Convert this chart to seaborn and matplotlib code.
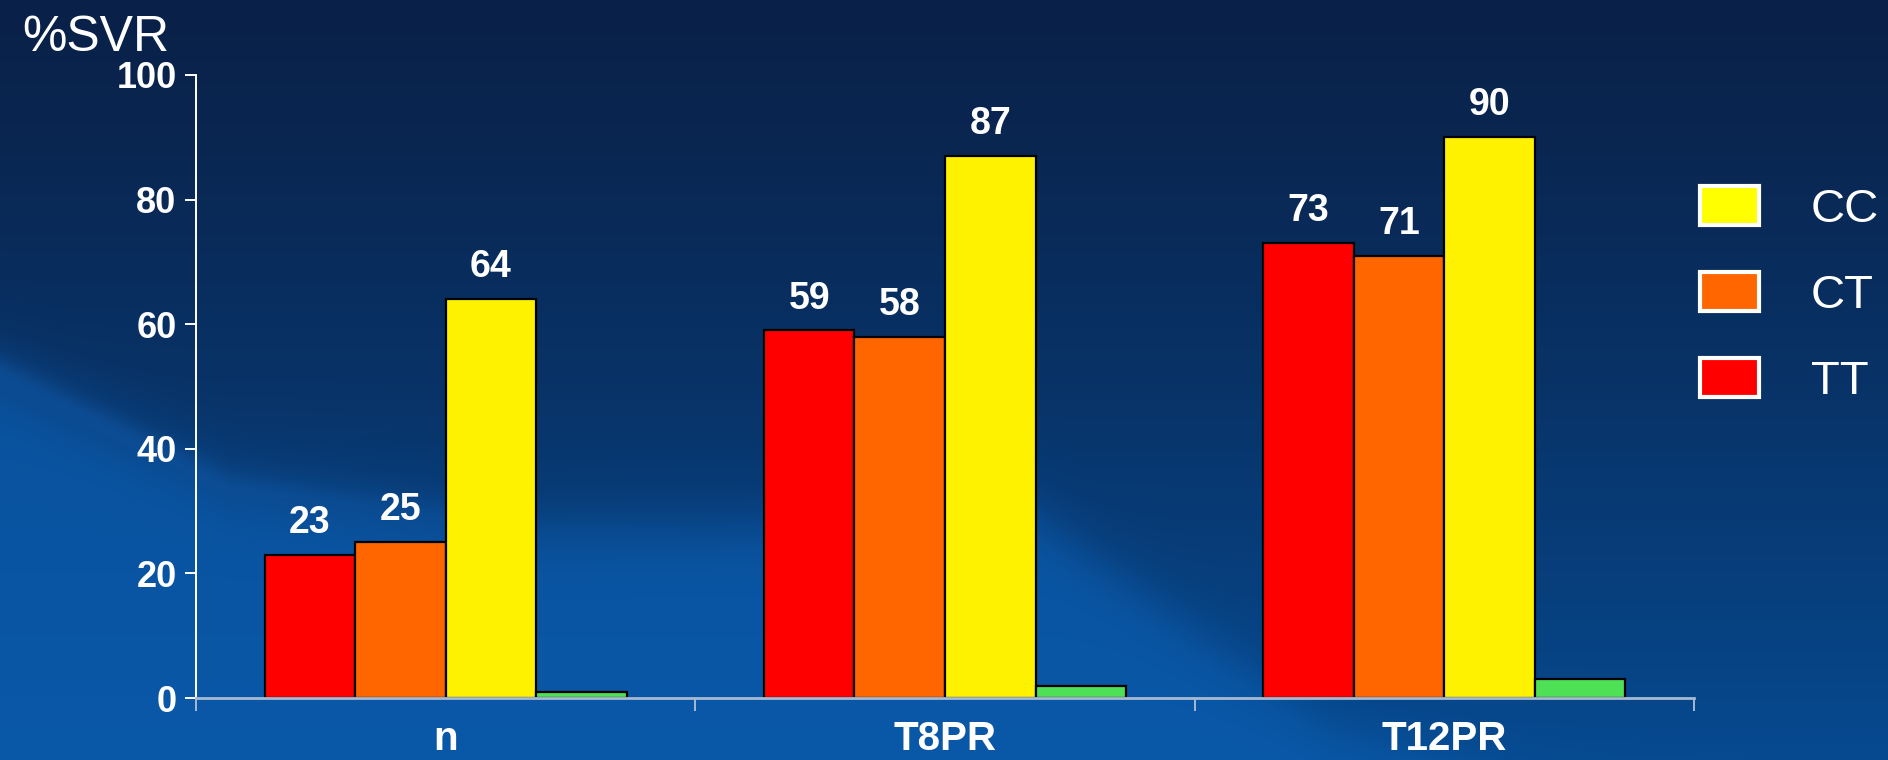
import numpy as np
import pandas as pd
import matplotlib
matplotlib.use("Agg")
import matplotlib.pyplot as plt
from matplotlib.patches import Patch
import seaborn as sns

# ---- data ----
groups = ["n", "T8PR", "T12PR"]
genotypes = ["TT", "CT", "CC", "Other"]
svr_tt = [23, 59, 73]
svr_ct = [25, 58, 71]
svr_cc = [64, 87, 90]
svr_other = [1, 2, 3]
y_ticks = [0, 20, 40, 60, 80, 100]

bar_colors = {"TT": "#ff0000", "CT": "#ff6600", "CC": "#fff200", "Other": "#4ee055"}
legend_colors = {"CC": "#ffff00", "CT": "#ff6600", "TT": "#ff0000"}

df = pd.DataFrame({
    "group": groups * 4,
    "genotype": [g for g in genotypes for _ in groups],
    "svr": svr_tt + svr_ct + svr_cc + svr_other,
})

sns.set_theme(style="white")
plt.rcParams["font.family"] = ["Liberation Sans", "DejaVu Sans"]

W, H, DPI = 1888, 760, 100
fig = plt.figure(figsize=(W / DPI, H / DPI), dpi=DPI)

# ---- slide-style blue background ----
bg_ax = fig.add_axes([0, 0, 1, 1], zorder=-10)
yy, xx = np.mgrid[0:H, 0:W].astype(float)
t = (yy / H)[..., None]


def hexrgb(h):
    return np.array([int(h[i:i + 2], 16) for i in (1, 3, 5)]) / 255


dark = hexrgb("#0a2148") + (hexrgb("#064a90") - hexrgb("#0a2148")) * t ** 1.2
light = hexrgb("#0a4c94") + (hexrgb("#0a58a8") - hexrgb("#0a4c94")) * t
# boundary of the lighter sweep in the lower-left
bx = [0, 230, 540, 1040, 1330, 1888]
by = [370, 485, 530, 520, 730, 900]
edge = np.interp(xx, bx, by)
mask = 1 / (1 + np.exp(-(yy - edge) / 18.0))
img = dark * (1 - mask[..., None]) + light * mask[..., None]
# faint highlight along the sweep edge on the left
streak = np.exp(-((yy - edge) / 14.0) ** 2) * np.clip(1 - xx / 700, 0, 1)
img = img + streak[..., None] * 0.05 * np.array([0.3, 0.6, 1.0])
img = np.clip(img, 0, 1)
bg_ax.imshow(img, aspect="auto", extent=[0, 1, 0, 1], origin="upper")
bg_ax.axis("off")

# ---- main axes ----
ax = fig.add_axes([196 / W, 1 - 698 / H, (1694 - 196) / W, (698 - 75) / H])
ax.patch.set_alpha(0)

sns.barplot(
    data=df, x="group", y="svr", hue="genotype", hue_order=genotypes,
    palette=bar_colors, width=0.725, edgecolor="black", linewidth=1.6,
    saturation=1, legend=False, ax=ax,
)

for cont in ax.containers[:3]:
    ax.bar_label(cont, fmt="%d", padding=10, color="white",
                 fontsize=27, fontweight="bold")

ax.set_xlim(-0.5, 2.5)
ax.set_ylim(0, 100)
ax.set_yticks(y_ticks)
ax.set_yticklabels([str(v) for v in y_ticks], fontsize=26, fontweight="bold", color="white")
ax.tick_params(axis="y", length=8, width=1.4, color="white", pad=6, left=True)

ax.set_xticks([-0.5, 0.5, 1.5, 2.5])
ax.set_xticklabels([])
ax.set_xticks([0, 1, 2], minor=True)
ax.set_xticklabels(groups, minor=True, fontsize=29, fontweight="bold", color="white")
ax.tick_params(axis="x", which="major", length=9, width=1.4, color="#a6bad2", bottom=True)
ax.tick_params(axis="x", which="minor", length=0, pad=16)

ax.set_xlabel("")
ax.set_ylabel("")
for side in ["top", "right"]:
    ax.spines[side].set_visible(False)
ax.spines["left"].set_color("white")
ax.spines["left"].set_linewidth(1.4)
ax.spines["bottom"].set_color("#a6bad2")
ax.spines["bottom"].set_linewidth(2.0)
ax.grid(False)

# ---- axis title ----
fig.text(22 / W, 1 - 51 / H, "%SVR", fontsize=36, color="white", va="baseline", ha="left")

# ---- legend ----
handles = [Patch(facecolor=legend_colors[k], edgecolor="white", linewidth=3, label=k)
           for k in ["CC", "CT", "TT"]]
leg = fig.legend(
    handles=handles, loc="upper left", bbox_to_anchor=(1700 / W, 1 - 186 / H),
    frameon=False, fontsize=34, labelcolor="white",
    handlelength=1.25, handleheight=0.9, handletextpad=1.1, labelspacing=0.85,
    borderpad=0, borderaxespad=0,
)

fig.savefig("out.png", dpi=DPI)
